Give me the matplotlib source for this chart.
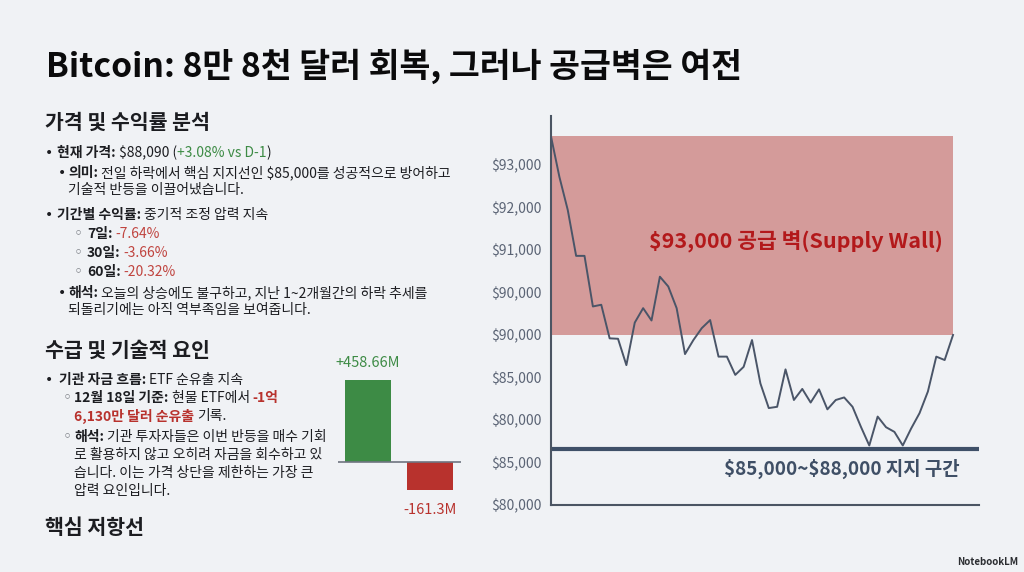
import matplotlib
matplotlib.use("Agg")
import matplotlib.pyplot as plt

plt.rcParams['font.family'] = ['Noto Sans CJK KR', 'DejaVu Sans']
plt.rcParams['text.parse_math'] = False

# price line, in tick-slot units (the slide's y labels are not a real scale)
price = [8.67, 7.72, 6.94, 5.86, 5.86, 4.67, 4.71, 3.92, 3.91, 3.29,
         4.29, 4.63, 4.34, 5.37, 5.14, 4.63, 3.55, 3.88, 4.16, 4.35,
         3.49, 3.49, 3.06, 3.25, 3.88, 2.86, 2.28, 2.31, 3.19, 2.47,
         2.73, 2.41, 2.72, 2.25, 2.47, 2.53, 2.31, 1.84, 1.40, 2.08,
         1.83, 1.72, 1.40, 1.80, 2.16, 2.67, 3.49, 3.41, 4.00]
ytick_labels = ['$80,000', '$85,000', '$80,000', '$85,000', '$90,000',
                '$90,000', '$91,000', '$92,000', '$93,000']
wall_low, wall_high = 4.0, 8.68
support_level = 1.32

etf_labels = ['+458.66M', '-161.3M']
etf_flows = [458.66, -161.3]

W, H = 1024, 572
bg = '#f0f2f5'
ink = '#1c1d21'
green = '#3d8b45'
red = '#b8322d'
body = 10.0

fig = plt.figure(figsize=(W / 100, H / 100), dpi=100, facecolor=bg)
r = fig.canvas.get_renderer()


def fx(px):
    return px / W


def fy(py):
    return 1 - py / H


def space_w(size, weight):
    a = fig.text(0, 0, '가 가', fontsize=size, fontweight=weight)
    b = fig.text(0, 0, '가가', fontsize=size, fontweight=weight)
    w = a.get_window_extent(r).width - b.get_window_extent(r).width
    a.remove()
    b.remove()
    return w


def rich(x, y, parts, size=body):
    # parts: (text, bold, colour) drawn one after another on one line
    for s, bold, color in parts:
        weight = 'bold' if bold else 'normal'
        s2 = s.rstrip(' ')
        t = fig.text(fx(x), fy(y), s2, fontsize=size, fontweight=weight,
                     color=color, ha='left', va='center')
        x += t.get_window_extent(r).width + (len(s) - len(s2)) * space_w(size, weight)


def bullet(x, y, sub=False):
    if sub:
        fig.text(fx(x), fy(y), '◦', fontsize=11, color='#6a6e75', ha='center',
                 va='center', family='DejaVu Sans')
    else:
        fig.text(fx(x), fy(y), '•', fontsize=10, color=ink, ha='center', va='center',
                 family='DejaVu Sans')


# title
fig.text(fx(46), fy(77), 'Bitcoin: 8만 8천 달러 회복, 그러나 공급벽은 여전',
         fontsize=24.2, fontweight='bold', color='#0b0b0c', ha='left', va='baseline')

# section 1
fig.text(fx(45), fy(122), '가격 및 수익률 분석', fontsize=14.8, fontweight='bold',
         color=ink, ha='left', va='center')
bullet(49, 153)
rich(57, 153, [('현재 가격: ', True, ink), ('$88,090 (', False, ink),
               ('+3.08% vs D-1', False, green), (')', False, ink)])
bullet(62, 173)
rich(68, 173, [('의미: ', True, ink),
               ('전일 하락에서 핵심 지지선인 $85,000를 성공적으로 방어하고', False, ink)])
rich(68, 190, [('기술적 반등을 이끌어냈습니다.', False, ink)])
bullet(49, 215)
rich(57, 215, [('기간별 수익률: ', True, ink), ('중기적 조정 압력 지속', False, ink)])
for yy, (k, v) in zip([234, 253, 272], [('7일: ', '-7.64%'), ('30일: ', '-3.66%'),
                                        ('60일: ', '-20.32%')]):
    bullet(78, yy, sub=True)
    rich(87, yy, [(k, True, ink), (v, False, '#c0443f')])
bullet(62, 293)
rich(68, 293, [('해석: ', True, ink),
               ('오늘의 상승에도 불구하고, 지난 1~2개월간의 하락 추세를', False, ink)])
rich(68, 310, [('되돌리기에는 아직 역부족임을 보여줍니다.', False, ink)])

# section 2
fig.text(fx(45), fy(350), '수급 및 기술적 요인', fontsize=14.8, fontweight='bold',
         color=ink, ha='left', va='center')
bullet(49, 380)
rich(59, 380, [('기관 자금 흐름: ', True, ink), ('ETF 순유출 지속', False, ink)])
bullet(67, 398, sub=True)
rich(74, 398, [('12월 18일 기준: ', True, ink), ('현물 ETF에서 ', False, ink),
               ('-1억', True, red)])
rich(74, 416, [('6,130만 달러 순유출 ', True, red), ('기록.', False, ink)])
bullet(67, 437, sub=True)
rich(74, 437, [('해석: ', True, ink), ('기관 투자자들은 이번 반등을 매수 기회', False, ink)])
rich(74, 455, [('로 활용하지 않고 오히려 자금을 회수하고 있', False, ink)])
rich(74, 473, [('습니다. 이는 가격 상단을 제한하는 가장 큰', False, ink)])
rich(74, 491, [('압력 요인입니다.', False, ink)])
fig.text(fx(45), fy(528), '핵심 저항선', fontsize=14.8, fontweight='bold',
         color=ink, ha='left', va='center')

# ETF flow bars
bx = fig.add_axes([fx(338), fy(505), 122.5 / W, 135 / H])
bx.set_facecolor(bg)
bar_cols = [green, red]
bx.bar([0, 1], etf_flows, width=0.745, color=bar_cols)
bx.axhline(0, color='#6f7580', lw=1.2)
for i, (v, lab) in enumerate(zip(etf_flows, etf_labels)):
    off = 7 if v > 0 else -9
    bx.annotate(lab, (i, v), xytext=(0, off), textcoords='offset points',
                ha='center', va='bottom' if v > 0 else 'top',
                fontsize=10.5, color=bar_cols[i], annotation_clip=False)
bx.set_xlim(-0.48, 1.5)
bx.set_ylim(-243, 515)
bx.axis('off')

# price chart
ax = fig.add_axes([fx(551), fy(505), (979 - 551) / W, (505 - 116) / H])
ax.set_facecolor(bg)
x = list(range(len(price)))
ax.fill_between([0, len(price) - 1], wall_low, wall_high, color='#d49b9a', lw=0, zorder=1)
ax.axhline(support_level, color='#3f5068', lw=3, zorder=2)
ax.plot(x, price, color='#4a5568', lw=1.4, zorder=3)
ax.set_xlim(0, 51.1)
ax.set_ylim(0, 9.15)
ax.set_yticks(range(len(ytick_labels)))
ax.set_yticklabels(ytick_labels, fontsize=10, color='#5b6475')
ax.set_xticks([])
ax.tick_params(axis='y', length=0, pad=7)
for s in ['top', 'right']:
    ax.spines[s].set_visible(False)
for s in ['left', 'bottom']:
    ax.spines[s].set_color('#4b5563')
    ax.spines[s].set_linewidth(1.5)

ax.text(46.8, 6.2, '$93,000 공급 벽(Supply Wall)', fontsize=15.5, fontweight='bold',
        color='#b3191b', ha='right', va='center', zorder=4)
ax.text(48.8, 0.84, '$85,000~$88,000 지지 구간', fontsize=13.6, fontweight='bold',
        color='#3f4f66', ha='right', va='center', zorder=4)

fig.text(fx(957), fy(562), 'NotebookLM', fontsize=7, fontweight='bold',
         color='#2b2d31', ha='left', va='center')

fig.savefig('out.png', dpi=100, facecolor=bg)
